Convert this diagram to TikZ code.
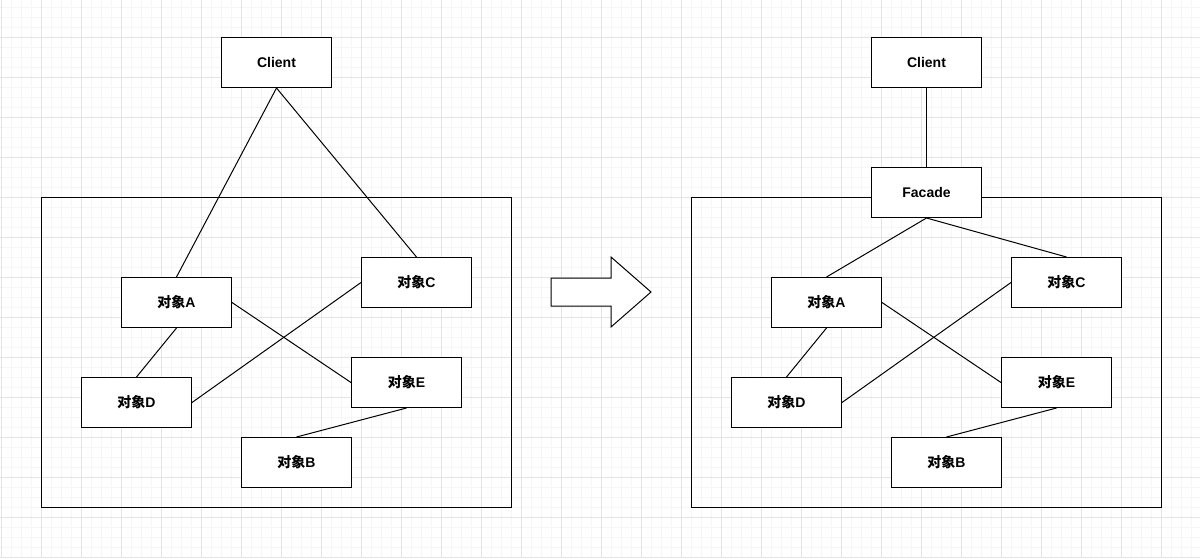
\documentclass[tikz,border=0pt]{standalone}
\usepackage{fontspec}
\setmainfont{Liberation Sans}
\newfontfamily\cjk{Noto Sans CJK SC}
\begin{document}
\begin{tikzpicture}[x=1pt,y=-1pt,
  box/.style={draw=black,fill=white,line width=1pt,minimum width=110pt,minimum height=50pt,inner sep=0pt,font=\fontsize{14}{16}\selectfont\bfseries,anchor=north west},
  frame/.style={draw=black,line width=1pt},
  conn/.style={draw=black,line width=1pt},
  minor/.style={draw={rgb,255:red,246;green,246;blue,246},line width=1pt},
  major/.style={draw={rgb,255:red,228;green,228;blue,228},line width=1pt}]
\useasboundingbox (0,0) rectangle (1200,558);
\fill[white] (0,0) rectangle (1200,558);
% grid
\foreach \x in {1,11,...,1200} \draw[minor] (\x,0) -- (\x,558);
\foreach \y in {7,17,...,558} \draw[minor] (0,\y) -- (1200,\y);
\foreach \x in {1,41,...,1200} \draw[major] (\x,0) -- (\x,558);
\foreach \y in {37,77,...,558} \draw[major] (0,\y) -- (1200,\y);
% left
\draw[frame] (41,197) rectangle (511,507);
\node[box] (lclient) at (221,37) {Client};
\node[box] (la) at (121,277) {{\cjk 对象}A};
\node[box] (lc) at (361,257) {{\cjk 对象}C};
\node[box] (ld) at (81,377) {{\cjk 对象}D};
\node[box] (le) at (351,357) {{\cjk 对象}E};
\node[box] (lb) at (241,437) {{\cjk 对象}B};
\draw[conn] (lclient.south) -- (la.north);
\draw[conn] (lclient.south) -- (lc.north);
\draw[conn] (la.south) -- (ld.north);
\draw[conn] (la.east) -- (le.west);
\draw[conn] (lc.west) -- (ld.east);
\draw[conn] (le.south) -- (lb.north);
% arrow
\draw[draw=black,fill=white,line width=1pt] (551,278) -- (611,278) -- (611,257) -- (651,292) -- (611,327) -- (611,306) -- (551,306) -- cycle;
% right
\draw[frame] (691,197) rectangle (1161,507);
\node[box] (rclient) at (871,37) {Client};
\node[box] (facade) at (871,167) {Facade};
\node[box] (ra) at (771,277) {{\cjk 对象}A};
\node[box] (rc) at (1011,257) {{\cjk 对象}C};
\node[box] (rd) at (731,377) {{\cjk 对象}D};
\node[box] (re) at (1001,357) {{\cjk 对象}E};
\node[box] (rb) at (891,437) {{\cjk 对象}B};
\draw[conn] (rclient.south) -- (facade.north);
\draw[conn] (facade.south) -- (ra.north);
\draw[conn] (facade.south) -- (rc.north);
\draw[conn] (ra.south) -- (rd.north);
\draw[conn] (ra.east) -- (re.west);
\draw[conn] (rc.west) -- (rd.east);
\draw[conn] (re.south) -- (rb.north);
\end{tikzpicture}
\end{document}
